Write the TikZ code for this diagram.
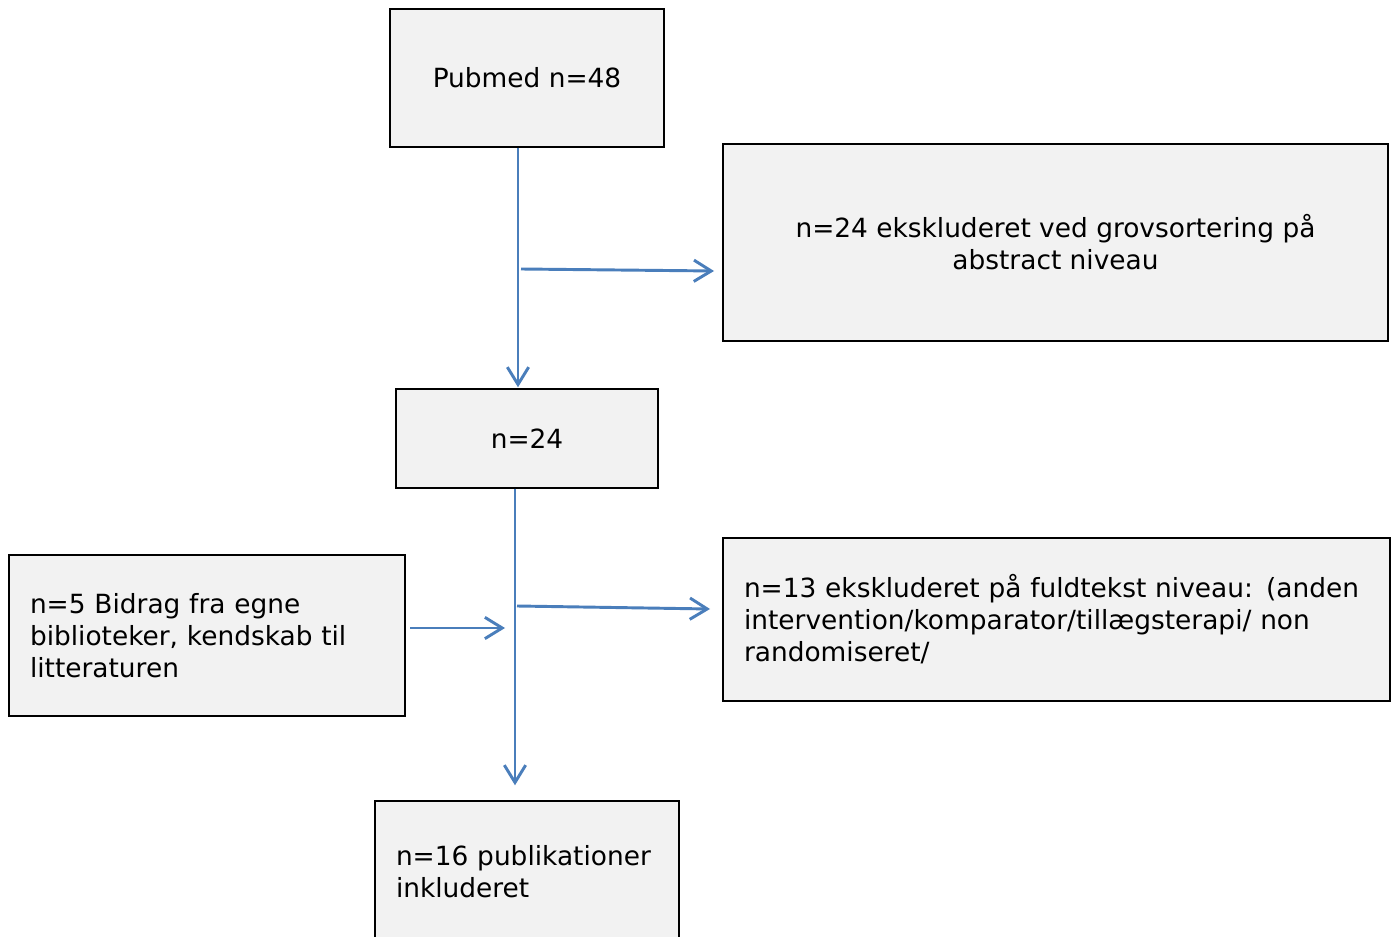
\documentclass[tikz,border=0pt]{standalone}
\usepackage{fontspec}
\setmainfont{DejaVu Sans}
\usetikzlibrary{arrows.meta,calc}
\definecolor{boxfill}{HTML}{F2F2F2}
\definecolor{arrblue}{HTML}{4A7EBB}
\tikzset{
  box/.style={draw=black, line width=1.1pt, fill=boxfill, rectangle, inner sep=0pt,
    font=\fontsize{19.8}{24}\selectfont, text=black},
  lbox/.style={box, align=left, inner xsep=21*0.75pt},
  cbox/.style={box, align=center},
  arr/.style={draw=arrblue, line width=2.2pt, -{Straight Barb[length=13pt,width=16pt,line width=2.2pt]}},
}
\begin{document}
\begin{tikzpicture}[x=0.75pt,y=-0.75pt]
\clip (0,0) rectangle (1396,937);
\fill[white] (0,0) rectangle (1396,937);
\node[cbox, minimum width=274*0.75pt, minimum height=138*0.75pt] (pub) at (527,78) {Pubmed n=48};
\node[cbox, minimum width=665*0.75pt, minimum height=197*0.75pt] (exc1) at (1055.5,242.5) {n=24 ekskluderet ved grovsortering på\\abstract niveau};
\node[cbox, minimum width=262*0.75pt, minimum height=99*0.75pt] (n24) at (527,438.5) {n=24};
\node[lbox, minimum width=396*0.75pt, minimum height=161*0.75pt, text width=354*0.75pt] (n5) at (207,635.5) {n=5 Bidrag fra egne\\biblioteker, kendskab til\\litteraturen};
\node[lbox, minimum width=667*0.75pt, minimum height=163*0.75pt, text width=625*0.75pt] (exc2) at (1056.5,619.5) {n=13 ekskluderet på fuldtekst niveau: (anden\\intervention/komparator/tillægsterapi/ non\\randomiseret/};
\node[lbox, minimum width=304*0.75pt, minimum height=142*0.75pt, text width=262*0.75pt] (fin) at (527,872) {n=16 publikationer\\inkluderet};
\coordinate (a1s) at (521,269);
\coordinate (a1e) at (714,271);
\coordinate (a2s) at (517,606);
\coordinate (a2e) at (710,609);
\coordinate (a3s) at (410,628);
\coordinate (a3e) at (505,628);
\draw[arr] ([xshift=-9*0.75pt]pub.south) -- ([xshift=-9*0.75pt,yshift=1*0.75pt]n24.north);
\draw[arr] (a1s) -- (a1e);
\draw[arr] ([xshift=-12*0.75pt]n24.south) -- ([xshift=-12*0.75pt,yshift=15*0.75pt]fin.north);
\draw[arr] (a2s) -- (a2e);
\draw[arr] (a3s) -- (a3e);
\end{tikzpicture}
\end{document}
